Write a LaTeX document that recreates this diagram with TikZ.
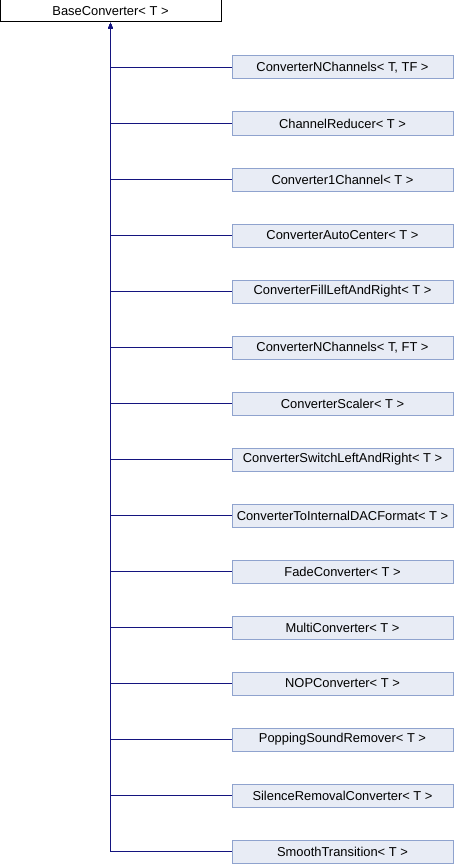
\documentclass[tikz,border=0pt]{standalone}
\usepackage{fontspec}
\setmainfont{Liberation Sans}
\usetikzlibrary{arrows.meta}

\begin{document}
\begin{tikzpicture}[x=1pt,y=1pt,font=\fontsize{12.9}{15}\selectfont]
  \definecolor{navy}{HTML}{14147F}
  \definecolor{boxfill}{HTML}{E8ECF5}
  \definecolor{boxline}{HTML}{8FA3CE}
  \path[use as bounding box] (0,0) rectangle (454,-864);

  \tikzset{parent/.style={draw=black,fill=white,line width=1pt,minimum width=221pt,minimum height=22pt,inner sep=0pt},
           derived/.style={draw=boxline,fill=boxfill,line width=1pt,minimum width=221pt,minimum height=23pt,inner sep=0pt},
           inherit/.style={navy,line width=1pt,-{Latex[length=6pt,width=5pt]}}}
  \node[parent] (base) at (110.5,-11) {BaseConverter< T >};

  % One row every 56pt below the base class.
  \node[derived] (nchtf) at (342.5,-67.5) {ConverterNChannels< T, TF >};
  \node[derived] (reducer) at (342.5,-123.5) {ChannelReducer< T >};
  \node[derived] (onech) at (342.5,-179.5) {Converter1Channel< T >};
  \node[derived] (autocenter) at (342.5,-235.5) {ConverterAutoCenter< T >};
  \node[derived] (fill) at (342.5,-291.5) {ConverterFillLeftAndRight< T >};
  \node[derived] (nchft) at (342.5,-347.5) {ConverterNChannels< T, FT >};
  \node[derived] (scaler) at (342.5,-403.5) {ConverterScaler< T >};
  \node[derived] (switch) at (342.5,-459.5) {ConverterSwitchLeftAndRight< T >};
  \node[derived] (dac) at (342.5,-515.5) {ConverterToInternalDACFormat< T >};
  \node[derived] (fade) at (342.5,-571.5) {FadeConverter< T >};
  \node[derived] (multi) at (342.5,-627.5) {MultiConverter< T >};
  \node[derived] (nop) at (342.5,-683.5) {NOPConverter< T >};
  \node[derived] (popping) at (342.5,-739.5) {PoppingSoundRemover< T >};
  \node[derived] (silence) at (342.5,-795.5) {SilenceRemovalConverter< T >};
  \node[derived] (smooth) at (342.5,-851.5) {SmoothTransition< T >};

  \draw[inherit] (nchtf.west) -| (base.south);
  \draw[inherit] (reducer.west) -| (base.south);
  \draw[inherit] (onech.west) -| (base.south);
  \draw[inherit] (autocenter.west) -| (base.south);
  \draw[inherit] (fill.west) -| (base.south);
  \draw[inherit] (nchft.west) -| (base.south);
  \draw[inherit] (scaler.west) -| (base.south);
  \draw[inherit] (switch.west) -| (base.south);
  \draw[inherit] (dac.west) -| (base.south);
  \draw[inherit] (fade.west) -| (base.south);
  \draw[inherit] (multi.west) -| (base.south);
  \draw[inherit] (nop.west) -| (base.south);
  \draw[inherit] (popping.west) -| (base.south);
  \draw[inherit] (silence.west) -| (base.south);
  \draw[inherit] (smooth.west) -| (base.south);
\end{tikzpicture}
\end{document}
